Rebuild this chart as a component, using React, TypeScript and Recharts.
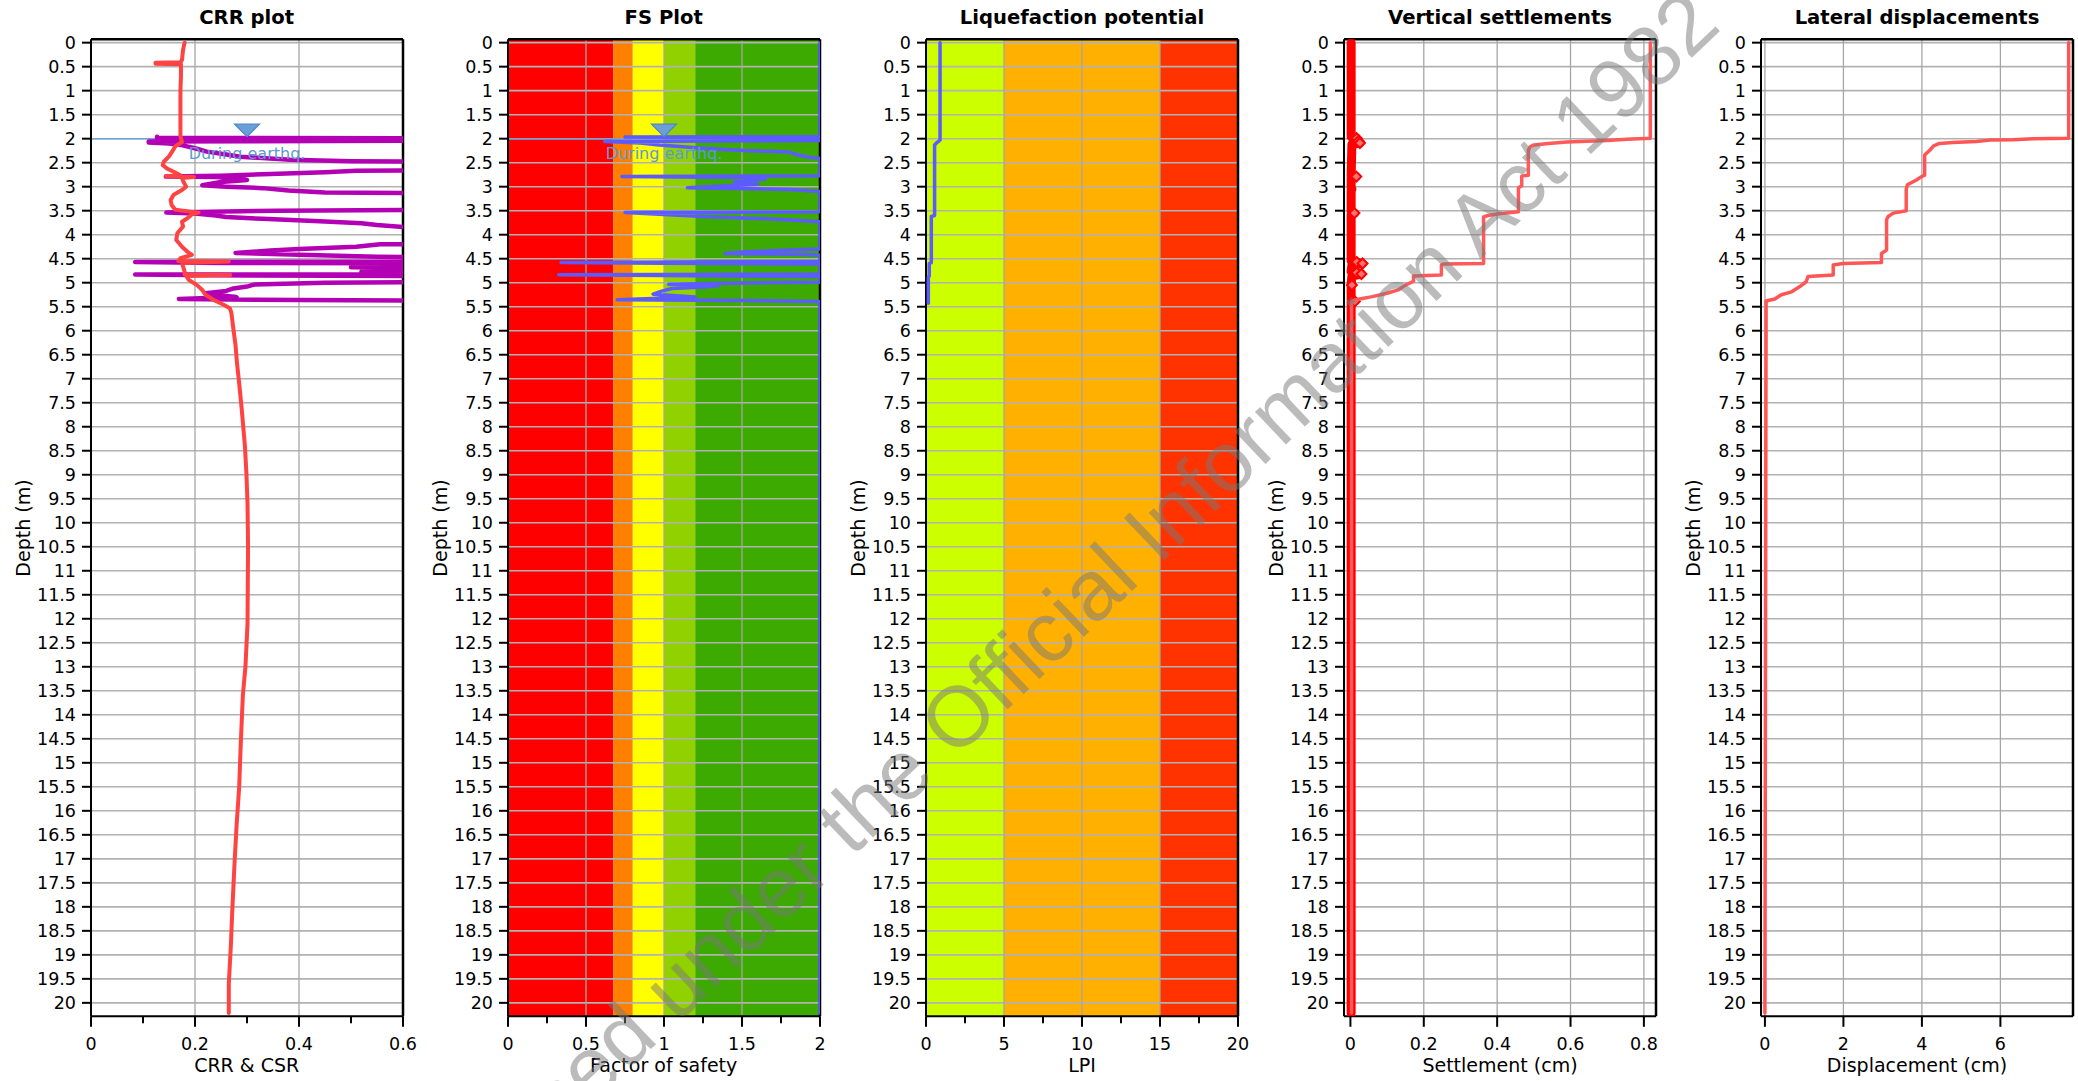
import React from 'react';
import {
  ComposedChart,
  XAxis,
  YAxis,
  Scatter,
  ReferenceLine,
  ReferenceArea,
  ReferenceDot,
} from 'recharts';

const FONT = "'DejaVu Sans', Verdana, sans-serif";

// ---------------- data ----------------
type Row = [number, number]; // [depth (m), value]

const depthTicks = [
  0, 0.5, 1, 1.5, 2, 2.5, 3, 3.5, 4, 4.5, 5, 5.5, 6, 6.5, 7, 7.5, 8, 8.5, 9, 9.5, 10,
  10.5, 11, 11.5, 12, 12.5, 13, 13.5, 14, 14.5, 15, 15.5, 16, 16.5, 17, 17.5, 18, 18.5,
  19, 19.5, 20,
];

// CRR plot axis
const crrMajorTicks = [0, 0.2, 0.4, 0.6];
const crrMinorTicks = [0.1, 0.3, 0.5];
// FS plot axis
const fsMajorTicks = [0, 0.5, 1, 1.5, 2];
const fsMinorTicks = [0.25, 0.75, 1.25, 1.75];
// LPI axis
const lpiMajorTicks = [0, 5, 10, 15, 20];
const lpiMinorTicks = [2.5, 7.5, 12.5, 17.5];
// settlement axis
const settleMajorTicks = [0, 0.2, 0.4, 0.6, 0.8];
// displacement axis
const dispMajorTicks = [0, 2, 4, 6];

const groundWaterDepth = 2;

// classification bands
const fsBandLimits = [0, 0.675, 0.8, 1.0, 1.2, 2];
const fsBandColors = ['#fe0000', '#ff8000', '#ffff00', '#91d100', '#3caa00'];
const lpiBandLimits = [0, 5, 15, 20];
const lpiBandColors = ['#ccff00', '#ffb000', '#ff3300'];

// CSR (red) profile
const csrProfile: Row[] = [
  [0.0, 0.18], [0.15, 0.177], [0.36, 0.175], [0.41, 0.172], [0.42, 0.124], [0.44, 0.124],
  [0.45, 0.173], [0.7, 0.173], [1.0, 0.172], [1.5, 0.172], [1.95, 0.172], [2.07, 0.175],
  [2.16, 0.162], [2.27, 0.156], [2.37, 0.15], [2.48, 0.14], [2.55, 0.138], [2.62, 0.146],
  [2.69, 0.159], [2.76, 0.172], [2.78, 0.144], [2.8, 0.198], [2.82, 0.175], [2.9, 0.178],
  [3.0, 0.183], [3.07, 0.175], [3.17, 0.159], [3.28, 0.153], [3.38, 0.155], [3.48, 0.162],
  [3.54, 0.207], [3.57, 0.195], [3.66, 0.185], [3.73, 0.175], [3.83, 0.177], [3.97, 0.166],
  [4.11, 0.164], [4.25, 0.175], [4.35, 0.185], [4.42, 0.194], [4.49, 0.172], [4.55, 0.168],
  [4.56, 0.265], [4.59, 0.175], [4.66, 0.177], [4.77, 0.18], [4.83, 0.18], [4.84, 0.268],
  [4.86, 0.183], [4.94, 0.188], [5.05, 0.204], [5.15, 0.214], [5.25, 0.22], [5.36, 0.236],
  [5.46, 0.255], [5.53, 0.267], [5.63, 0.27], [5.98, 0.274], [6.31, 0.278], [6.7, 0.281],
  [7.1, 0.285], [7.65, 0.29], [8.4, 0.296], [9.0, 0.299], [9.6, 0.301], [10.5, 0.302],
  [12.1, 0.301], [13.0, 0.297], [13.6, 0.292], [14.6, 0.288], [15.5, 0.285], [16.3, 0.28],
  [17.1, 0.276], [18.0, 0.272], [18.8, 0.269], [19.6, 0.265], [20.21, 0.265],
];

// CRR (purple) profile, values beyond 0.6 run off the plot
const crrProfile: Row[] = [
  [1.96, 0.127], [1.98, 0.127], [2.0, 0.9], [2.03, 0.9], [2.06, 0.111], [2.08, 0.111],
  [2.1, 0.15], [2.13, 0.172], [2.2, 0.2], [2.27, 0.223], [2.33, 0.26], [2.375, 0.287],
  [2.44, 0.383], [2.47, 0.5], [2.49, 0.9], [2.64, 0.9], [2.67, 0.51], [2.7, 0.45],
  [2.74, 0.33], [2.77, 0.25], [2.79, 0.144], [2.8, 0.24], [2.83, 0.287], [2.86, 0.3],
  [2.9, 0.25], [2.97, 0.214], [3.0, 0.26], [3.03, 0.33], [3.08, 0.38], [3.12, 0.45],
  [3.15, 0.9], [3.47, 0.9], [3.5, 0.36], [3.54, 0.145], [3.56, 0.2], [3.6, 0.24],
  [3.63, 0.26], [3.67, 0.33], [3.72, 0.44], [3.76, 0.52], [3.8, 0.55], [3.84, 0.6],
  [3.87, 0.9], [4.18, 0.9], [4.2, 0.556], [4.25, 0.51], [4.3, 0.4], [4.33, 0.345],
  [4.38, 0.278], [4.42, 0.4], [4.46, 0.55], [4.48, 0.9], [4.55, 0.9], [4.57, 0.085],
  [4.59, 0.25], [4.6, 0.9], [4.66, 0.9], [4.68, 0.5], [4.71, 0.9], [4.75, 0.9],
  [4.77, 0.52], [4.8, 0.9], [4.82, 0.9], [4.83, 0.085], [4.85, 0.3], [4.87, 0.9],
  [4.97, 0.9], [5.0, 0.45], [5.04, 0.313], [5.08, 0.3], [5.12, 0.274], [5.17, 0.26],
  [5.22, 0.22], [5.26, 0.25], [5.3, 0.28], [5.34, 0.169], [5.36, 0.4], [5.38, 0.9],
];

// factor of safety
const fsProfile: Row[] = [
  [0, 2], [1.955, 2], [1.965, 0.75], [1.98, 2], [2.04, 2], [2.06, 0.62], [2.09, 0.85],
  [2.13, 0.97], [2.2, 1.25], [2.24, 1.48], [2.28, 1.8], [2.34, 1.86], [2.38, 1.92],
  [2.41, 2], [2.77, 2], [2.79, 0.73], [2.81, 1.5], [2.84, 1.65], [2.9, 1.45], [2.95, 1.6],
  [3.02, 1.15], [3.06, 1.8], [3.1, 2], [3.52, 2], [3.54, 0.75], [3.58, 1.0], [3.62, 1.25],
  [3.66, 1.6], [3.7, 1.85], [3.73, 2], [4.3, 2], [4.32, 1.8], [4.36, 1.5], [4.39, 1.39],
  [4.41, 1.9], [4.43, 2], [4.56, 2], [4.58, 0.34], [4.595, 1.0], [4.61, 2], [4.82, 2],
  [4.835, 0.325], [4.855, 1.2], [4.87, 2], [4.99, 2], [5.01, 1.4], [5.03, 1.03],
  [5.06, 1.35], [5.09, 1.26], [5.12, 1.05], [5.18, 0.98], [5.24, 0.93], [5.3, 1.2],
  [5.355, 0.7], [5.37, 1.5], [5.39, 2], [20.21, 2],
];

// liquefaction potential index
const lpiProfile: Row[] = [
  [0, 0.9], [2.03, 0.9], [2.08, 0.7], [2.13, 0.55], [3.6, 0.55], [3.62, 0.34],
  [4.58, 0.34], [4.6, 0.21], [4.86, 0.21], [4.88, 0.15], [5.43, 0.15],
];

// cumulative vertical settlement (cm)
const settlementCumulative: Row[] = [
  [0, 0.8175], [1.99, 0.8175], [2.01, 0.754], [2.04, 0.7], [2.07, 0.59], [2.1, 0.54],
  [2.13, 0.5], [2.17, 0.49], [2.24, 0.485], [2.76, 0.485], [2.78, 0.467], [2.98, 0.467],
  [3.02, 0.458], [3.52, 0.458], [3.56, 0.41], [3.6, 0.375], [3.63, 0.363], [4.6, 0.363],
  [4.61, 0.253], [4.63, 0.248], [4.84, 0.248], [4.86, 0.172], [4.97, 0.172], [5.05, 0.15],
  [5.15, 0.13], [5.22, 0.1], [5.29, 0.06], [5.34, 0.025], [5.37, 0.01], [5.4, 0.003],
  [20.21, 0.003],
];

// per-layer settlement (cm)
const settlementLayer: Row[] = [
  [0, 0.002], [1.96, 0.002], [1.99, 0.017], [2.02, 0.008], [2.05, 0.022], [2.09, 0.026],
  [2.12, 0.004], [2.76, 0.002], [2.79, 0.016], [2.82, 0.002], [3.02, 0.002], [3.05, 0.004],
  [3.08, 0.002], [3.52, 0.002], [3.55, 0.011], [3.58, 0.002], [4.54, 0.002], [4.57, 0.017],
  [4.6, 0.033], [4.63, 0.004], [4.76, 0.002], [4.79, 0.017], [4.82, 0.03], [4.86, 0.004],
  [5.03, 0.002], [5.05, 0.004], [5.08, 0.002], [5.36, 0.002], [5.39, 0.012], [5.42, 0.002],
  [20.21, 0.002],
];
const settlementLayerMarkers: Row[] = [
  [1.99, 0.017], [2.05, 0.022], [2.09, 0.026], [2.79, 0.016], [3.55, 0.011], [4.57, 0.017],
  [4.6, 0.033], [4.79, 0.017], [4.82, 0.03], [5.05, 0.004], [5.39, 0.012],
];

// lateral displacement (cm)
const displacementProfile: Row[] = [
  [0, 7.74], [1.99, 7.74], [2.0, 6.83], [2.02, 6.32], [2.03, 5.73], [2.06, 5.39],
  [2.08, 4.79], [2.1, 4.45], [2.15, 4.3], [2.24, 4.2], [2.34, 4.07], [2.76, 4.07],
  [2.79, 3.99], [2.86, 3.86], [2.96, 3.63], [3.05, 3.6], [3.5, 3.6], [3.55, 3.27],
  [3.62, 3.14], [3.69, 3.1], [4.32, 3.1], [4.39, 2.97], [4.58, 2.97], [4.6, 1.99],
  [4.63, 1.74], [4.84, 1.74], [4.87, 1.1], [4.98, 1.05], [5.08, 0.89], [5.19, 0.68],
  [5.25, 0.42], [5.34, 0.25], [5.38, 0.03], [20.21, 0.0],
];

// ---------------- layout ----------------
const CH = 1081;
const PLOT_TOP = 39.3;
const PLOT_BOTTOM = 1016.3;
const PLOT_W = 312;
const YW = 90;
const CW = 440;
const Y_DOMAIN: [number, number] = [-0.07, 20.28];

const toPoints = (rows: Row[]) => rows.map(([d, x]) => ({ d, x }));

const EmptyShape = () => <g />;

const DiamondShape = (props: any) => {
  const { cx, cy } = props;
  if (cx == null || cy == null) return <g />;
  const r = 5;
  return (
    <polygon
      points={`${cx},${cy - r} ${cx + r},${cy} ${cx},${cy + r} ${cx - r},${cy}`}
      fill="#ff7070"
      stroke="#ff0000"
      strokeWidth={2}
    />
  );
};

const makeXTick = (majors: number[]) => (props: any) => {
  const { x, y, payload } = props;
  const v = payload?.value;
  const isMajor = majors.some((m) => Math.abs(m - v) < 1e-9);
  return (
    <g>
      <line x1={x} x2={x} y1={y} y2={y + (isMajor ? 10.5 : 7)} stroke="#000" strokeWidth={2} />
      {isMajor ? (
        <text x={x} y={y + 33.5} textAnchor="middle" fontSize={17.5} fontFamily={FONT} fill="#000">
          {String(v)}
        </text>
      ) : null}
    </g>
  );
};

const WaterTableMark = (props: any) => {
  const { cx, cy } = props;
  if (cx == null || cy == null) return <g />;
  return (
    <g>
      <polygon
        points={`${cx - 12.5},${cy - 14.5} ${cx + 12.5},${cy - 14.5} ${cx},${cy - 2}`}
        fill="#6b9fd9"
        stroke="#4d86c8"
        strokeWidth={1.2}
      />
      <text x={cx} y={cy + 20} textAnchor="middle" fontSize={16} fontFamily={FONT} fill="#5b9bd5">
        During earthq.
      </text>
    </g>
  );
};

interface SeriesSpec {
  rows: Row[];
  color: string;
  width: number;
  markers?: boolean;
  noLine?: boolean;
}

interface PanelSpec {
  title: string;
  xLabel: string;
  left: number;
  xDomain: [number, number];
  majors: number[];
  minors: number[];
  gridX: number[];
  bandLimits?: number[];
  bandColors?: string[];
  series: SeriesSpec[];
  waterX?: number;
}

const panels: PanelSpec[] = [
  {
    title: 'CRR plot',
    xLabel: 'CRR & CSR',
    left: 90.7,
    xDomain: [0, 0.6],
    majors: crrMajorTicks,
    minors: crrMinorTicks,
    gridX: [0.2, 0.4],
    series: [
      { rows: crrProfile, color: '#b400b4', width: 4.5 },
      { rows: csrProfile, color: '#ff4242', width: 4 },
    ],
    waterX: 0.3,
  },
  {
    title: 'FS Plot',
    xLabel: 'Factor of safety',
    left: 507.7,
    xDomain: [0, 2],
    majors: fsMajorTicks,
    minors: fsMinorTicks,
    gridX: [0.5, 1, 1.5],
    bandLimits: fsBandLimits,
    bandColors: fsBandColors,
    series: [{ rows: fsProfile, color: '#5b5bff', width: 3.5 }],
    waterX: 1,
  },
  {
    title: 'Liquefaction potential',
    xLabel: 'LPI',
    left: 926,
    xDomain: [0, 20],
    majors: lpiMajorTicks,
    minors: lpiMinorTicks,
    gridX: [5, 10, 15],
    bandLimits: lpiBandLimits,
    bandColors: lpiBandColors,
    series: [{ rows: lpiProfile, color: '#5b5bff', width: 3.5 }],
  },
  {
    title: 'Vertical settlements',
    xLabel: 'Settlement (cm)',
    left: 1344,
    xDomain: [-0.0175, 0.833],
    majors: settleMajorTicks,
    minors: [],
    gridX: [0, 0.2, 0.4, 0.6, 0.8],
    series: [
      { rows: settlementLayer, color: '#ff0000', width: 9 },
      { rows: settlementLayerMarkers, color: '#ff0000', width: 0, markers: true, noLine: true },
      { rows: settlementCumulative, color: '#ff5a5a', width: 3.5 },
    ],
  },
  {
    title: 'Lateral displacements',
    xLabel: 'Displacement (cm)',
    left: 1761,
    xDomain: [-0.1, 7.85],
    majors: dispMajorTicks,
    minors: [],
    gridX: [0, 2, 4, 6],
    series: [{ rows: displacementProfile, color: '#ff5555', width: 3.5 }],
  },
];

function Panel({ spec }: { spec: PanelSpec }) {
  const chartLeft = spec.left - YW;
  const allTicks = [...spec.majors, ...spec.minors].sort((a, b) => a - b);
  const bands: { x1: number; x2: number; color: string }[] = [];
  if (spec.bandLimits && spec.bandColors) {
    for (let i = 0; i < spec.bandColors.length; i++) {
      bands.push({ x1: spec.bandLimits[i], x2: spec.bandLimits[i + 1], color: spec.bandColors[i] });
    }
  }
  return (
    <>
      <div
        style={{
          position: 'absolute',
          left: spec.left,
          top: 8,
          width: PLOT_W,
          textAlign: 'center',
          fontFamily: FONT,
          fontWeight: 'bold',
          fontSize: 19.6,
          lineHeight: '19px',
          whiteSpace: 'nowrap',
          color: '#000',
        }}
      >
        {spec.title}
      </div>
      <div style={{ position: 'absolute', left: chartLeft, top: 0 }}>
        <ComposedChart
          width={CW}
          height={CH}
          margin={{ top: PLOT_TOP, right: CW - YW - PLOT_W, bottom: 0, left: 0 }}
        >
          <XAxis
            type="number"
            dataKey="x"
            domain={spec.xDomain}
            ticks={allTicks}
            interval={0}
            allowDataOverflow
            height={CH - PLOT_BOTTOM}
            tickLine={false}
            tickSize={0}
            tickMargin={0}
            tick={makeXTick(spec.majors)}
            axisLine={{ stroke: '#000', strokeWidth: 2 }}
          />
          <YAxis
            type="number"
            dataKey="d"
            reversed
            domain={Y_DOMAIN}
            ticks={depthTicks}
            interval={0}
            allowDataOverflow
            width={YW}
            tickSize={9}
            tickMargin={6}
            tick={{ fontSize: 17.5, fill: '#000', fontFamily: FONT }}
            tickLine={{ stroke: '#000', strokeWidth: 2 }}
            axisLine={{ stroke: '#000', strokeWidth: 2 }}
          />
          {bands.map((b, i) => (
            <ReferenceArea
              key={`band-${i}`}
              x1={b.x1}
              x2={b.x2}
              y1={Y_DOMAIN[0]}
              y2={Y_DOMAIN[1]}
              fill={b.color}
              fillOpacity={1}
              stroke="none"
              ifOverflow="visible"
            />
          ))}
          {depthTicks.map((t) => (
            <ReferenceLine
              key={`hg-${t}`}
              y={t}
              stroke="#b2b2b2"
              strokeWidth={1.6}
              ifOverflow="visible"
            />
          ))}
          {spec.gridX.map((t) => (
            <ReferenceLine
              key={`vg-${t}`}
              x={t}
              stroke="#a6a6a6"
              strokeWidth={1.3}
              ifOverflow="visible"
            />
          ))}
          <ReferenceLine y={Y_DOMAIN[0]} stroke="#000" strokeWidth={2.5} ifOverflow="visible" />
          <ReferenceLine x={spec.xDomain[1]} stroke="#000" strokeWidth={2.5} ifOverflow="visible" />
          {spec.waterX != null ? (
            <ReferenceLine y={groundWaterDepth} stroke="#6fa2dc" strokeWidth={1.6} ifOverflow="visible" />
          ) : null}
          {spec.series.map((s, i) => (
            <Scatter
              key={`s-${i}`}
              data={toPoints(s.rows)}
              line={
                s.noLine
                  ? false
                  : { stroke: s.color, strokeWidth: s.width, strokeLinejoin: 'round', strokeLinecap: 'round' }
              }
              lineJointType="linear"
              shape={s.markers ? DiamondShape : EmptyShape}
              fill={s.color}
              isAnimationActive={false}
            />
          ))}
          {spec.waterX != null ? (
            <ReferenceDot
              x={spec.waterX}
              y={groundWaterDepth}
              r={0}
              ifOverflow="visible"
              shape={WaterTableMark}
            />
          ) : null}
        </ComposedChart>
      </div>
      <div
        style={{
          position: 'absolute',
          left: spec.left - 68,
          top: 528,
          transform: 'translate(-50%, -50%) rotate(-90deg)',
          fontFamily: FONT,
          fontSize: 19,
          lineHeight: '19px',
          whiteSpace: 'nowrap',
          color: '#000',
        }}
      >
        Depth (m)
      </div>
      <div
        style={{
          position: 'absolute',
          left: spec.left,
          top: 1056,
          width: PLOT_W,
          textAlign: 'center',
          fontFamily: FONT,
          fontSize: 19,
          lineHeight: '19px',
          whiteSpace: 'nowrap',
          color: '#000',
        }}
      >
        {spec.xLabel}
      </div>
    </>
  );
}

export default function App() {
  return (
    <div
      style={{
        position: 'absolute',
        left: 0,
        top: 0,
        width: 2078,
        height: 1081,
        overflow: 'hidden',
        background: '#fff',
      }}
    >
      {panels.map((p) => (
        <Panel key={p.title} spec={p} />
      ))}
      <svg
        width={2078}
        height={1081}
        style={{ position: 'absolute', left: 0, top: 0, pointerEvents: 'none' }}
      >
        <text
          x={400}
          y={1288}
          transform="rotate(-43.6 400 1288)"
          fontSize={85}
          fontFamily="'Liberation Sans', Arial, sans-serif"
          fill="#787878"
          fillOpacity={0.5}
        >
          Released under the Official Information Act 1982
        </text>
      </svg>
    </div>
  );
}
